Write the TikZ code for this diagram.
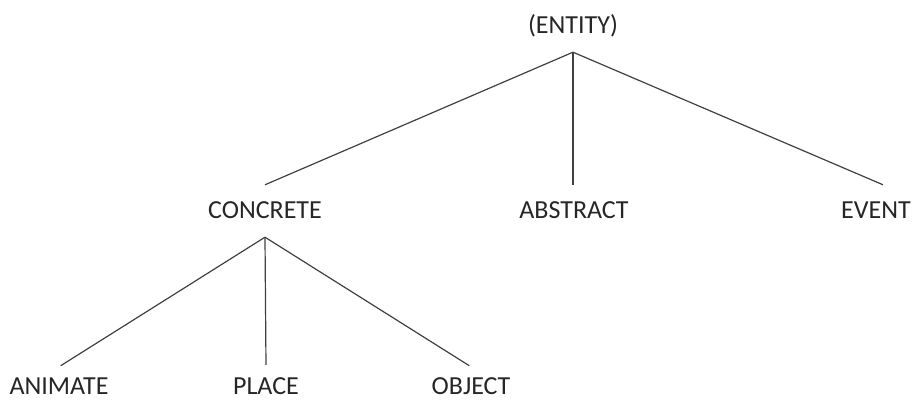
\documentclass[tikz,border=0pt]{standalone}
\usepackage{fontspec}
\setmainfont{Carlito}
\begin{document}
\begin{tikzpicture}[x=1pt,y=1pt,
  lbl/.style={anchor=base,font=\fontsize{26}{30}\selectfont,text=black!85,
    text height=18pt,text depth=2pt,inner ysep=16pt,inner xsep=0pt},
  leaf/.style={lbl,text height=26pt,text depth=0pt,inner ysep=2pt},
  conn/.style={draw=black!75,line width=1.2pt}]
\useasboundingbox (0,0) rectangle (916,403);
\node[lbl] (entity) at (573,369) {(ENTITY)};
\node[lbl] (concrete) at (265,184) {CONCRETE};
\node[lbl] (abstract) at (574,184) {ABSTRACT};
\node[lbl] (event) at (876,184) {EVENT};
\node[leaf] (animate) at (59,8) {ANIMATE};
\node[leaf] (place) at (266,8) {PLACE};
\node[leaf] (object) at (471,8) {OBJECT};
\draw[conn] (entity.south) -- (concrete.north);
\draw[conn] (entity.south) -- (entity.south |- abstract.north);
\draw[conn] (entity.south) -- ([xshift=7pt]event.north);
\draw[conn,shorten >=2pt] (concrete.south) -- (animate.north);
\draw[conn,shorten >=2pt] (concrete.south) -- (place.north);
\draw[conn,shorten >=2pt] (concrete.south) -- (object.north);
\end{tikzpicture}
\end{document}
